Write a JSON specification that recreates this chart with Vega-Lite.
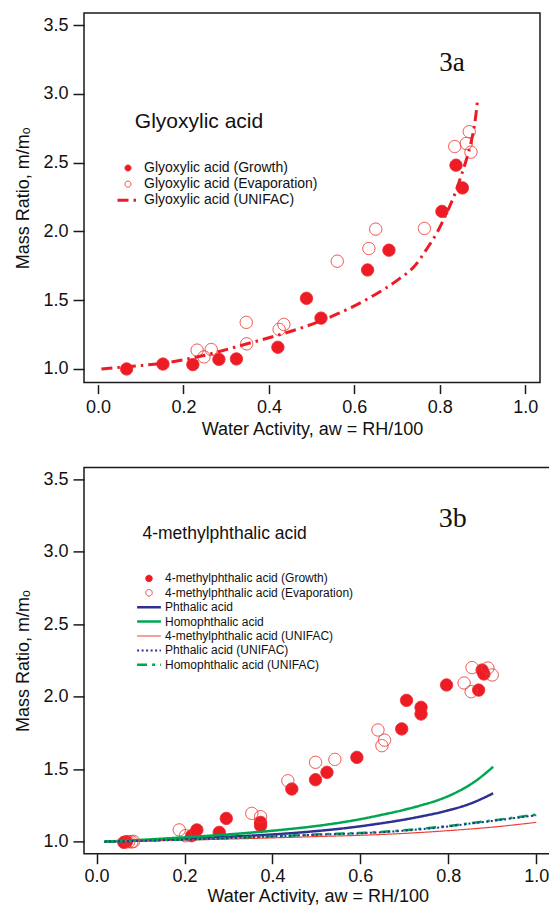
{
  "$schema": "https://vega.github.io/schema/vega-lite/v6.json",
  "background": "white",
  "autosize": {"type": "pad"},
  "padding": {"left": 14, "top": 12, "right": 0, "bottom": 0},
  "bounds": "flush",
  "spacing": 84.4,
  "resolve": {
    "scale": {"stroke": "independent", "fill": "independent", "shape": "independent", "strokeDash": "independent"}
  },
  "config": {
    "font": "Liberation Sans",
    "view": {"stroke": "#1a1a1a", "strokeWidth": 1.5},
    "axis": {
      "grid": false, "domain": false, "tickColor": "#1a1a1a", "tickWidth": 1.5,
      "labelColor": "#111111", "titleColor": "#111111",
      "labelFont": "Liberation Sans", "titleFont": "Liberation Sans",
      "labelFontSize": 18, "titleFontSize": 18, "titleFontWeight": "normal",
      "labelFlush": false, "labelOverlap": false
    }
  },
  "datasets": {
    "glyPoints": [
      {"aw": 0.067, "ratio": 1.0, "series": "Glyoxylic acid (Growth)"},
      {"aw": 0.152, "ratio": 1.036, "series": "Glyoxylic acid (Growth)"},
      {"aw": 0.222, "ratio": 1.032, "series": "Glyoxylic acid (Growth)"},
      {"aw": 0.283, "ratio": 1.07, "series": "Glyoxylic acid (Growth)"},
      {"aw": 0.324, "ratio": 1.073, "series": "Glyoxylic acid (Growth)"},
      {"aw": 0.421, "ratio": 1.158, "series": "Glyoxylic acid (Growth)"},
      {"aw": 0.488, "ratio": 1.514, "series": "Glyoxylic acid (Growth)"},
      {"aw": 0.522, "ratio": 1.37, "series": "Glyoxylic acid (Growth)"},
      {"aw": 0.631, "ratio": 1.72, "series": "Glyoxylic acid (Growth)"},
      {"aw": 0.681, "ratio": 1.864, "series": "Glyoxylic acid (Growth)"},
      {"aw": 0.805, "ratio": 2.146, "series": "Glyoxylic acid (Growth)"},
      {"aw": 0.838, "ratio": 2.482, "series": "Glyoxylic acid (Growth)"},
      {"aw": 0.853, "ratio": 2.317, "series": "Glyoxylic acid (Growth)"},
      {"aw": 0.232, "ratio": 1.137, "series": "Glyoxylic acid (Evaporation)"},
      {"aw": 0.248, "ratio": 1.088, "series": "Glyoxylic acid (Evaporation)"},
      {"aw": 0.265, "ratio": 1.142, "series": "Glyoxylic acid (Evaporation)"},
      {"aw": 0.347, "ratio": 1.339, "series": "Glyoxylic acid (Evaporation)"},
      {"aw": 0.348, "ratio": 1.183, "series": "Glyoxylic acid (Evaporation)"},
      {"aw": 0.424, "ratio": 1.288, "series": "Glyoxylic acid (Evaporation)"},
      {"aw": 0.435, "ratio": 1.324, "series": "Glyoxylic acid (Evaporation)"},
      {"aw": 0.56, "ratio": 1.784, "series": "Glyoxylic acid (Evaporation)"},
      {"aw": 0.634, "ratio": 1.876, "series": "Glyoxylic acid (Evaporation)"},
      {"aw": 0.65, "ratio": 2.017, "series": "Glyoxylic acid (Evaporation)"},
      {"aw": 0.764, "ratio": 2.022, "series": "Glyoxylic acid (Evaporation)"},
      {"aw": 0.835, "ratio": 2.618, "series": "Glyoxylic acid (Evaporation)"},
      {"aw": 0.862, "ratio": 2.64, "series": "Glyoxylic acid (Evaporation)"},
      {"aw": 0.873, "ratio": 2.577, "series": "Glyoxylic acid (Evaporation)"},
      {"aw": 0.869, "ratio": 2.726, "series": "Glyoxylic acid (Evaporation)"}
    ],
    "glyLine": [
      {"aw": 0.008, "ratio": 1.0, "series": "Glyoxylic acid (UNIFAC)"},
      {"aw": 0.08, "ratio": 1.02, "series": "Glyoxylic acid (UNIFAC)"},
      {"aw": 0.157, "ratio": 1.044, "series": "Glyoxylic acid (UNIFAC)"},
      {"aw": 0.25, "ratio": 1.1, "series": "Glyoxylic acid (UNIFAC)"},
      {"aw": 0.345, "ratio": 1.18, "series": "Glyoxylic acid (UNIFAC)"},
      {"aw": 0.42, "ratio": 1.245, "series": "Glyoxylic acid (UNIFAC)"},
      {"aw": 0.484, "ratio": 1.307, "series": "Glyoxylic acid (UNIFAC)"},
      {"aw": 0.56, "ratio": 1.4, "series": "Glyoxylic acid (UNIFAC)"},
      {"aw": 0.64, "ratio": 1.526, "series": "Glyoxylic acid (UNIFAC)"},
      {"aw": 0.705, "ratio": 1.655, "series": "Glyoxylic acid (UNIFAC)"},
      {"aw": 0.74, "ratio": 1.745, "series": "Glyoxylic acid (UNIFAC)"},
      {"aw": 0.771, "ratio": 1.88, "series": "Glyoxylic acid (UNIFAC)"},
      {"aw": 0.795, "ratio": 2.0, "series": "Glyoxylic acid (UNIFAC)"},
      {"aw": 0.816, "ratio": 2.134, "series": "Glyoxylic acid (UNIFAC)"},
      {"aw": 0.835, "ratio": 2.27, "series": "Glyoxylic acid (UNIFAC)"},
      {"aw": 0.851, "ratio": 2.414, "series": "Glyoxylic acid (UNIFAC)"},
      {"aw": 0.862, "ratio": 2.52, "series": "Glyoxylic acid (UNIFAC)"},
      {"aw": 0.873, "ratio": 2.645, "series": "Glyoxylic acid (UNIFAC)"},
      {"aw": 0.882, "ratio": 2.79, "series": "Glyoxylic acid (UNIFAC)"},
      {"aw": 0.889, "ratio": 2.97, "series": "Glyoxylic acid (UNIFAC)"}
    ],
    "mpPoints": [
      {"aw": 0.062, "ratio": 0.995, "series": "4-methylphthalic acid (Growth)"},
      {"aw": 0.068, "ratio": 1.0, "series": "4-methylphthalic acid (Growth)"},
      {"aw": 0.216, "ratio": 1.041, "series": "4-methylphthalic acid (Growth)"},
      {"aw": 0.228, "ratio": 1.081, "series": "4-methylphthalic acid (Growth)"},
      {"aw": 0.279, "ratio": 1.064, "series": "4-methylphthalic acid (Growth)"},
      {"aw": 0.295, "ratio": 1.16, "series": "4-methylphthalic acid (Growth)"},
      {"aw": 0.373, "ratio": 1.133, "series": "4-methylphthalic acid (Growth)"},
      {"aw": 0.373, "ratio": 1.11, "series": "4-methylphthalic acid (Growth)"},
      {"aw": 0.444, "ratio": 1.363, "series": "4-methylphthalic acid (Growth)"},
      {"aw": 0.498, "ratio": 1.427, "series": "4-methylphthalic acid (Growth)"},
      {"aw": 0.524, "ratio": 1.478, "series": "4-methylphthalic acid (Growth)"},
      {"aw": 0.592, "ratio": 1.581, "series": "4-methylphthalic acid (Growth)"},
      {"aw": 0.694, "ratio": 1.777, "series": "4-methylphthalic acid (Growth)"},
      {"aw": 0.705, "ratio": 1.974, "series": "4-methylphthalic acid (Growth)"},
      {"aw": 0.738, "ratio": 1.926, "series": "4-methylphthalic acid (Growth)"},
      {"aw": 0.738, "ratio": 1.88, "series": "4-methylphthalic acid (Growth)"},
      {"aw": 0.796, "ratio": 2.08, "series": "4-methylphthalic acid (Growth)"},
      {"aw": 0.869, "ratio": 2.045, "series": "4-methylphthalic acid (Growth)"},
      {"aw": 0.877, "ratio": 2.183, "series": "4-methylphthalic acid (Growth)"},
      {"aw": 0.881, "ratio": 2.156, "series": "4-methylphthalic acid (Growth)"},
      {"aw": 0.073, "ratio": 1.0, "series": "4-methylphthalic acid (Evaporation)"},
      {"aw": 0.08, "ratio": 0.998, "series": "4-methylphthalic acid (Evaporation)"},
      {"aw": 0.084, "ratio": 1.002, "series": "4-methylphthalic acid (Evaporation)"},
      {"aw": 0.188, "ratio": 1.081, "series": "4-methylphthalic acid (Evaporation)"},
      {"aw": 0.202, "ratio": 1.041, "series": "4-methylphthalic acid (Evaporation)"},
      {"aw": 0.353, "ratio": 1.195, "series": "4-methylphthalic acid (Evaporation)"},
      {"aw": 0.373, "ratio": 1.172, "series": "4-methylphthalic acid (Evaporation)"},
      {"aw": 0.435, "ratio": 1.42, "series": "4-methylphthalic acid (Evaporation)"},
      {"aw": 0.498, "ratio": 1.547, "series": "4-methylphthalic acid (Evaporation)"},
      {"aw": 0.542, "ratio": 1.567, "series": "4-methylphthalic acid (Evaporation)"},
      {"aw": 0.64, "ratio": 1.77, "series": "4-methylphthalic acid (Evaporation)"},
      {"aw": 0.655, "ratio": 1.7, "series": "4-methylphthalic acid (Evaporation)"},
      {"aw": 0.649, "ratio": 1.662, "series": "4-methylphthalic acid (Evaporation)"},
      {"aw": 0.836, "ratio": 2.094, "series": "4-methylphthalic acid (Evaporation)"},
      {"aw": 0.852, "ratio": 2.034, "series": "4-methylphthalic acid (Evaporation)"},
      {"aw": 0.854, "ratio": 2.2, "series": "4-methylphthalic acid (Evaporation)"},
      {"aw": 0.89, "ratio": 2.197, "series": "4-methylphthalic acid (Evaporation)"},
      {"aw": 0.9, "ratio": 2.149, "series": "4-methylphthalic acid (Evaporation)"}
    ],
    "mpLines": [
      {"aw": 0.018, "ratio": 1.0, "series": "Phthalic acid"},
      {"aw": 0.1, "ratio": 1.008, "series": "Phthalic acid"},
      {"aw": 0.178, "ratio": 1.019, "series": "Phthalic acid"},
      {"aw": 0.3, "ratio": 1.034, "series": "Phthalic acid"},
      {"aw": 0.417, "ratio": 1.053, "series": "Phthalic acid"},
      {"aw": 0.5, "ratio": 1.073, "series": "Phthalic acid"},
      {"aw": 0.576, "ratio": 1.097, "series": "Phthalic acid"},
      {"aw": 0.644, "ratio": 1.125, "series": "Phthalic acid"},
      {"aw": 0.7, "ratio": 1.152, "series": "Phthalic acid"},
      {"aw": 0.735, "ratio": 1.172, "series": "Phthalic acid"},
      {"aw": 0.795, "ratio": 1.212, "series": "Phthalic acid"},
      {"aw": 0.85, "ratio": 1.262, "series": "Phthalic acid"},
      {"aw": 0.902, "ratio": 1.333, "series": "Phthalic acid"},
      {"aw": 0.018, "ratio": 1.0, "series": "Homophthalic acid"},
      {"aw": 0.1, "ratio": 1.012, "series": "Homophthalic acid"},
      {"aw": 0.2, "ratio": 1.03, "series": "Homophthalic acid"},
      {"aw": 0.3, "ratio": 1.05, "series": "Homophthalic acid"},
      {"aw": 0.416, "ratio": 1.08, "series": "Homophthalic acid"},
      {"aw": 0.5, "ratio": 1.108, "series": "Homophthalic acid"},
      {"aw": 0.6, "ratio": 1.155, "series": "Homophthalic acid"},
      {"aw": 0.644, "ratio": 1.182, "series": "Homophthalic acid"},
      {"aw": 0.7, "ratio": 1.22, "series": "Homophthalic acid"},
      {"aw": 0.735, "ratio": 1.248, "series": "Homophthalic acid"},
      {"aw": 0.78, "ratio": 1.29, "series": "Homophthalic acid"},
      {"aw": 0.815, "ratio": 1.335, "series": "Homophthalic acid"},
      {"aw": 0.863, "ratio": 1.42, "series": "Homophthalic acid"},
      {"aw": 0.902, "ratio": 1.516, "series": "Homophthalic acid"},
      {"aw": 0.018, "ratio": 1.0, "series": "4-methylphthalic acid (UNIFAC)"},
      {"aw": 0.1, "ratio": 1.005, "series": "4-methylphthalic acid (UNIFAC)"},
      {"aw": 0.2, "ratio": 1.011, "series": "4-methylphthalic acid (UNIFAC)"},
      {"aw": 0.3, "ratio": 1.018, "series": "4-methylphthalic acid (UNIFAC)"},
      {"aw": 0.4, "ratio": 1.026, "series": "4-methylphthalic acid (UNIFAC)"},
      {"aw": 0.5, "ratio": 1.035, "series": "4-methylphthalic acid (UNIFAC)"},
      {"aw": 0.6, "ratio": 1.044, "series": "4-methylphthalic acid (UNIFAC)"},
      {"aw": 0.644, "ratio": 1.049, "series": "4-methylphthalic acid (UNIFAC)"},
      {"aw": 0.7, "ratio": 1.057, "series": "4-methylphthalic acid (UNIFAC)"},
      {"aw": 0.8, "ratio": 1.076, "series": "4-methylphthalic acid (UNIFAC)"},
      {"aw": 0.9, "ratio": 1.1, "series": "4-methylphthalic acid (UNIFAC)"},
      {"aw": 1.0, "ratio": 1.133, "series": "4-methylphthalic acid (UNIFAC)"},
      {"aw": 0.018, "ratio": 1.0, "series": "Phthalic acid (UNIFAC)"},
      {"aw": 0.1, "ratio": 1.006, "series": "Phthalic acid (UNIFAC)"},
      {"aw": 0.2, "ratio": 1.014, "series": "Phthalic acid (UNIFAC)"},
      {"aw": 0.3, "ratio": 1.025, "series": "Phthalic acid (UNIFAC)"},
      {"aw": 0.4, "ratio": 1.036, "series": "Phthalic acid (UNIFAC)"},
      {"aw": 0.5, "ratio": 1.048, "series": "Phthalic acid (UNIFAC)"},
      {"aw": 0.6, "ratio": 1.058, "series": "Phthalic acid (UNIFAC)"},
      {"aw": 0.644, "ratio": 1.064, "series": "Phthalic acid (UNIFAC)"},
      {"aw": 0.7, "ratio": 1.076, "series": "Phthalic acid (UNIFAC)"},
      {"aw": 0.8, "ratio": 1.105, "series": "Phthalic acid (UNIFAC)"},
      {"aw": 0.833, "ratio": 1.118, "series": "Phthalic acid (UNIFAC)"},
      {"aw": 0.9, "ratio": 1.143, "series": "Phthalic acid (UNIFAC)"},
      {"aw": 1.0, "ratio": 1.182, "series": "Phthalic acid (UNIFAC)"},
      {"aw": 0.018, "ratio": 1.0, "series": "Homophthalic acid (UNIFAC)"},
      {"aw": 0.1, "ratio": 1.006, "series": "Homophthalic acid (UNIFAC)"},
      {"aw": 0.2, "ratio": 1.015, "series": "Homophthalic acid (UNIFAC)"},
      {"aw": 0.3, "ratio": 1.026, "series": "Homophthalic acid (UNIFAC)"},
      {"aw": 0.4, "ratio": 1.037, "series": "Homophthalic acid (UNIFAC)"},
      {"aw": 0.5, "ratio": 1.049, "series": "Homophthalic acid (UNIFAC)"},
      {"aw": 0.6, "ratio": 1.06, "series": "Homophthalic acid (UNIFAC)"},
      {"aw": 0.644, "ratio": 1.066, "series": "Homophthalic acid (UNIFAC)"},
      {"aw": 0.7, "ratio": 1.079, "series": "Homophthalic acid (UNIFAC)"},
      {"aw": 0.8, "ratio": 1.108, "series": "Homophthalic acid (UNIFAC)"},
      {"aw": 0.833, "ratio": 1.12, "series": "Homophthalic acid (UNIFAC)"},
      {"aw": 0.9, "ratio": 1.146, "series": "Homophthalic acid (UNIFAC)"},
      {"aw": 1.0, "ratio": 1.186, "series": "Homophthalic acid (UNIFAC)"}
    ]
  },
  "vconcat": [
    {
      "width": 456,
      "height": 369.6,
      "layer": [
        {
          "encoding": {
            "x": {"field": "aw", "type": "quantitative",
              "scale": {"domain": [-0.0328, 1.0346], "nice": false, "zero": false},
              "axis": {"title": "Water Activity, aw = RH/100", "values": [0, 0.2, 0.4, 0.6, 0.8, 1.0], "format": ".1f", "offset": 2, "tickSize": 9, "labelPadding": 5, "titlePadding": 4}},
            "y": {"field": "ratio", "type": "quantitative",
              "scale": {"domain": [0.901, 3.589], "nice": false, "zero": false},
              "axis": {"title": "Mass Ratio, m/mₒ", "values": [1.0, 1.5, 2.0, 2.5, 3.0, 3.5], "format": ".1f", "tickSize": 11, "labelPadding": 5, "titlePadding": 10}},
            "stroke": {"field": "series", "type": "nominal",
              "scale": {"domain": ["Glyoxylic acid (Growth)", "Glyoxylic acid (Evaporation)", "Glyoxylic acid (UNIFAC)"], "range": ["#ed1c24", "#ef3a32", "#ed1c24"]},
              "legend": {"title": null, "orient": "none", "legendX": 37, "legendY": 148, "padding": 0, "labelFontSize": 14, "labelFont": "Liberation Sans", "labelColor": "#111111", "labelOffset": 9, "labelLimit": 400, "rowPadding": 2.1, "symbolSize": 441, "symbolOpacity": 1,
                "encode": {"symbols": {"update": {"size": {"signal": "datum.index === 2 ? 441 : 36"}, "strokeWidth": {"signal": "datum.index === 2 ? 3 : 1"}}}}}},
            "strokeDash": {"field": "series", "type": "nominal",
              "scale": {"domain": ["Glyoxylic acid (Growth)", "Glyoxylic acid (Evaporation)", "Glyoxylic acid (UNIFAC)"], "range": [[1, 0], [1, 0], [11, 5, 2.5, 5]]},
              "legend": {"title": null, "orient": "none", "legendX": 37, "legendY": 148, "padding": 0, "labelFontSize": 14, "labelFont": "Liberation Sans", "labelColor": "#111111", "labelOffset": 9, "labelLimit": 400, "rowPadding": 2.1, "symbolSize": 441, "symbolOpacity": 1,
                "encode": {"symbols": {"update": {"size": {"signal": "datum.index === 2 ? 441 : 36"}, "strokeWidth": {"signal": "datum.index === 2 ? 3 : 1"}}}}}}
          },
          "layer": [
            {
              "data": {"name": "glyPoints"},
              "mark": {"type": "point", "filled": true, "opacity": 1, "size": 150, "strokeWidth": 1},
              "encoding": {
                "fill": {"field": "series", "type": "nominal",
                  "scale": {"domain": ["Glyoxylic acid (Growth)", "Glyoxylic acid (Evaporation)", "Glyoxylic acid (UNIFAC)"], "range": ["#ed1c24", "transparent", "transparent"]},
                  "legend": {"title": null, "orient": "none", "legendX": 37, "legendY": 148, "padding": 0, "labelFontSize": 14, "labelFont": "Liberation Sans", "labelColor": "#111111", "labelOffset": 9, "labelLimit": 400, "rowPadding": 2.1, "symbolSize": 441, "symbolOpacity": 1,
                    "encode": {"symbols": {"update": {"size": {"signal": "datum.index === 2 ? 441 : 36"}, "strokeWidth": {"signal": "datum.index === 2 ? 3 : 1"}}}}}},
                "shape": {"field": "series", "type": "nominal",
                  "scale": {"domain": ["Glyoxylic acid (Growth)", "Glyoxylic acid (Evaporation)", "Glyoxylic acid (UNIFAC)"], "range": ["circle", "circle", "stroke"]},
                  "legend": {"title": null, "orient": "none", "legendX": 37, "legendY": 148, "padding": 0, "labelFontSize": 14, "labelFont": "Liberation Sans", "labelColor": "#111111", "labelOffset": 9, "labelLimit": 400, "rowPadding": 2.1, "symbolSize": 441, "symbolOpacity": 1,
                    "encode": {"symbols": {"update": {"size": {"signal": "datum.index === 2 ? 441 : 36"}, "strokeWidth": {"signal": "datum.index === 2 ? 3 : 1"}}}}}}
              }
            },
            {
              "data": {"name": "glyLine"},
              "mark": {"type": "line", "interpolate": "monotone", "strokeWidth": 3}
            }
          ]
        },
        {
          "data": {"values": [{"label": "Glyoxylic acid"}]},
          "mark": {"type": "text", "font": "Liberation Sans", "fontSize": 21, "align": "left", "baseline": "alphabetic", "color": "#111111"},
          "encoding": {"x": {"datum": 0.0861}, "y": {"datum": 2.753}, "text": {"field": "label"}}
        },
        {
          "data": {"values": [{"label": "3a"}]},
          "mark": {"type": "text", "font": "Liberation Serif", "fontSize": 27, "align": "left", "baseline": "alphabetic", "color": "#111111"},
          "encoding": {"x": {"datum": 0.799}, "y": {"datum": 3.165}, "text": {"field": "label"}}
        }
      ]
    },
    {
      "width": 467.6,
      "height": 386.3,
      "layer": [
        {
          "encoding": {
            "x": {"field": "aw", "type": "quantitative",
              "scale": {"domain": [-0.0287, 1.035], "nice": false, "zero": false},
              "axis": {"title": "Water Activity, aw = RH/100", "values": [0, 0.2, 0.4, 0.6, 0.8, 1.0], "format": ".1f", "offset": 0, "tickSize": 10, "labelPadding": 4, "titlePadding": 2}},
            "y": {"field": "ratio", "type": "quantitative",
              "scale": {"domain": [0.917, 3.58], "nice": false, "zero": false},
              "axis": {"title": "Mass Ratio, m/mₒ", "values": [1.0, 1.5, 2.0, 2.5, 3.0, 3.5], "format": ".1f", "tickSize": 11, "labelPadding": 5, "titlePadding": 10}},
            "stroke": {"field": "series", "type": "nominal",
              "scale": {"domain": ["4-methylphthalic acid (Growth)", "4-methylphthalic acid (Evaporation)", "Phthalic acid", "Homophthalic acid", "4-methylphthalic acid (UNIFAC)", "Phthalic acid (UNIFAC)", "Homophthalic acid (UNIFAC)"], "range": ["#ed1c24", "#ef3a32", "#2e3192", "#00a651", "#ef4136", "#2e3192", "#00a651"]},
              "legend": {"title": null, "orient": "none", "legendX": 59, "legendY": 105, "padding": 0, "labelFontSize": 12, "labelFont": "Liberation Sans", "labelColor": "#111111", "labelOffset": 10, "labelLimit": 400, "rowPadding": 2.4, "symbolSize": 566, "symbolOpacity": 1,
                "encode": {"symbols": {"update": {"size": {"signal": "datum.index < 2 ? 42 : 566"}, "strokeWidth": {"signal": "datum.index < 2 ? 1 : datum.index === 4 ? 1.2 : datum.index === 5 ? 2 : 2.5"}}}}}},
            "strokeDash": {"field": "series", "type": "nominal",
              "scale": {"domain": ["4-methylphthalic acid (Growth)", "4-methylphthalic acid (Evaporation)", "Phthalic acid", "Homophthalic acid", "4-methylphthalic acid (UNIFAC)", "Phthalic acid (UNIFAC)", "Homophthalic acid (UNIFAC)"], "range": [[1, 0], [1, 0], [1, 0], [1, 0], [1, 0], [2, 2.5], [10, 5, 3, 5]]},
              "legend": {"title": null, "orient": "none", "legendX": 59, "legendY": 105, "padding": 0, "labelFontSize": 12, "labelFont": "Liberation Sans", "labelColor": "#111111", "labelOffset": 10, "labelLimit": 400, "rowPadding": 2.4, "symbolSize": 566, "symbolOpacity": 1,
                "encode": {"symbols": {"update": {"size": {"signal": "datum.index < 2 ? 42 : 566"}, "strokeWidth": {"signal": "datum.index < 2 ? 1 : datum.index === 4 ? 1.2 : datum.index === 5 ? 2 : 2.5"}}}}}}
          },
          "layer": [
            {
              "data": {"name": "mpPoints"},
              "mark": {"type": "point", "filled": true, "opacity": 1, "size": 150, "strokeWidth": 1},
              "encoding": {
                "fill": {"field": "series", "type": "nominal",
                  "scale": {"domain": ["4-methylphthalic acid (Growth)", "4-methylphthalic acid (Evaporation)", "Phthalic acid", "Homophthalic acid", "4-methylphthalic acid (UNIFAC)", "Phthalic acid (UNIFAC)", "Homophthalic acid (UNIFAC)"], "range": ["#ed1c24", "transparent", "transparent", "transparent", "transparent", "transparent", "transparent"]},
                  "legend": {"title": null, "orient": "none", "legendX": 59, "legendY": 105, "padding": 0, "labelFontSize": 12, "labelFont": "Liberation Sans", "labelColor": "#111111", "labelOffset": 10, "labelLimit": 400, "rowPadding": 2.4, "symbolSize": 566, "symbolOpacity": 1,
                    "encode": {"symbols": {"update": {"size": {"signal": "datum.index < 2 ? 42 : 566"}, "strokeWidth": {"signal": "datum.index < 2 ? 1 : datum.index === 4 ? 1.2 : datum.index === 5 ? 2 : 2.5"}}}}}},
                "shape": {"field": "series", "type": "nominal",
                  "scale": {"domain": ["4-methylphthalic acid (Growth)", "4-methylphthalic acid (Evaporation)", "Phthalic acid", "Homophthalic acid", "4-methylphthalic acid (UNIFAC)", "Phthalic acid (UNIFAC)", "Homophthalic acid (UNIFAC)"], "range": ["circle", "circle", "stroke", "stroke", "stroke", "stroke", "stroke"]},
                  "legend": {"title": null, "orient": "none", "legendX": 59, "legendY": 105, "padding": 0, "labelFontSize": 12, "labelFont": "Liberation Sans", "labelColor": "#111111", "labelOffset": 10, "labelLimit": 400, "rowPadding": 2.4, "symbolSize": 566, "symbolOpacity": 1,
                    "encode": {"symbols": {"update": {"size": {"signal": "datum.index < 2 ? 42 : 566"}, "strokeWidth": {"signal": "datum.index < 2 ? 1 : datum.index === 4 ? 1.2 : datum.index === 5 ? 2 : 2.5"}}}}}}
              }
            },
            {
              "data": {"name": "mpLines"},
              "transform": [{"filter": {"field": "series", "oneOf": ["Phthalic acid", "Homophthalic acid"]}}],
              "mark": {"type": "line", "interpolate": "monotone", "strokeWidth": 2.5}
            },
            {
              "data": {"name": "mpLines"},
              "transform": [{"filter": {"field": "series", "equal": "4-methylphthalic acid (UNIFAC)"}}],
              "mark": {"type": "line", "interpolate": "monotone", "strokeWidth": 1.2}
            },
            {
              "data": {"name": "mpLines"},
              "transform": [{"filter": {"field": "series", "equal": "Homophthalic acid (UNIFAC)"}}],
              "mark": {"type": "line", "interpolate": "monotone", "strokeWidth": 2.5}
            },
            {
              "data": {"name": "mpLines"},
              "transform": [{"filter": {"field": "series", "equal": "Phthalic acid (UNIFAC)"}}],
              "mark": {"type": "line", "interpolate": "monotone", "strokeWidth": 2}
            }
          ]
        },
        {
          "data": {"values": [{"label": "4-methylphthalic acid"}]},
          "mark": {"type": "text", "font": "Liberation Sans", "fontSize": 17.5, "align": "left", "baseline": "alphabetic", "color": "#111111"},
          "encoding": {"x": {"datum": 0.1043}, "y": {"datum": 3.086}, "text": {"field": "label"}}
        },
        {
          "data": {"values": [{"label": "3b"}]},
          "mark": {"type": "text", "font": "Liberation Serif", "fontSize": 28, "align": "left", "baseline": "alphabetic", "color": "#111111"},
          "encoding": {"x": {"datum": 0.7785}, "y": {"datum": 3.171}, "text": {"field": "label"}}
        }
      ]
    }
  ]
}
